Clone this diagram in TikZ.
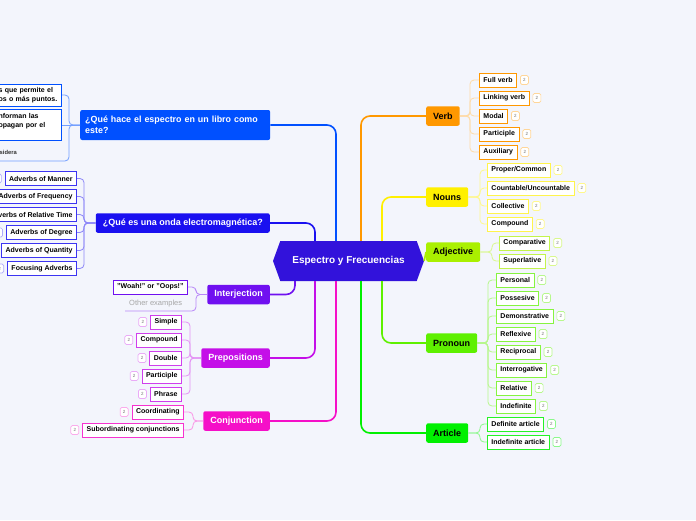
\documentclass[tikz,border=0pt]{standalone}
\usepackage{fontspec}
\setmainfont{Liberation Sans}
\usetikzlibrary{positioning,shapes.symbols}

\definecolor{bg}{HTML}{F3F5FC}
\definecolor{hubcol}{HTML}{3212DB}
\definecolor{verbcol}{HTML}{FF9800}
\definecolor{nouncol}{HTML}{FFF000}
\definecolor{adjcol}{HTML}{AAF000}
\definecolor{proncol}{HTML}{5EF000}
\definecolor{artcol}{HTML}{00F000}
\definecolor{qonecol}{HTML}{0050FF}
\definecolor{qtwocol}{HTML}{1A10F0}
\definecolor{interjcol}{HTML}{7010F0}
\definecolor{prepcol}{HTML}{C40FE8}
\definecolor{conjcol}{HTML}{F50FC8}

\begin{document}
\begin{tikzpicture}[
    x=1pt, y=-1pt,
    % Central topic
    hub/.style={signal, signal to=west and east, signal pointer angle=140, fill=hubcol, text=white,
        minimum width=151pt, minimum height=40pt, inner sep=0pt, font=\fontsize{10}{12}\selectfont\bfseries},
    % Main topics
    topic/.style={rounded corners=2pt, inner xsep=7pt, inner ysep=0pt, minimum height=19.5pt,
        font=\fontsize{9}{11}\selectfont\bfseries},
    % Subtopics and their little counters
    kid/.style={draw, fill=white, line width=0.9pt, inner xsep=4pt, inner ysep=0pt, minimum height=14pt,
        font=\fontsize{7}{9}\selectfont\bfseries},
    badge/.style={draw, rounded corners=1.5pt, fill=white, line width=0.7pt, inner sep=0pt,
        minimum width=8pt, minimum height=9pt, text=black!55, font=\fontsize{4.5}{5}\selectfont},
    note/.style={inner xsep=4pt, inner ysep=1pt, font=\fontsize{7.5}{9}\selectfont},
    % Connectors
    trunk/.style={line width=1.6pt, rounded corners=9pt},
    twig/.style={line width=0.8pt, rounded corners=4pt}
]

% Page background
\path[use as bounding box, fill=bg] (0,0) rectangle (696,520);

% Central topic
\node[hub] (hub) at (348.5,261) {Espectro y Frecuencias};

% Right side: main topics
\node[topic, fill=verbcol, anchor=west] (verb) at (426,116) {Verb};
\node[topic, fill=nouncol, anchor=west] (nouns) at (426,197) {Nouns};
\node[topic, fill=adjcol, anchor=west] (adj) at (426,252) {Adjective};
\node[topic, fill=proncol, anchor=west] (pron) at (426,343) {Pronoun};
\node[topic, fill=artcol, anchor=west] (art) at (426,433) {Article};

% Left side: main topics
\node[topic, fill=qonecol, text=white, anchor=west, text width=180pt, align=left, inner xsep=5pt,
    minimum height=30pt, font=\fontsize{8.9}{10.5}\selectfont\bfseries] (qone) at (80,125)
    {¿Qué hace el espectro en un libro como\\este?};
\node[topic, fill=qtwocol, text=white, anchor=east] (qtwo) at (270,223) {¿Qué es una onda electromagnética?};
\node[topic, fill=interjcol, text=white, anchor=east] (interj) at (270,294.5) {Interjection};
\node[topic, fill=prepcol, text=white, anchor=east] (prep) at (270,358) {Prepositions};
\node[topic, fill=conjcol, text=white, anchor=east] (conj) at (270,421) {Conjunction};

% Trunks from the central topic
\draw[trunk, verbcol] ([xshift=12.5pt]hub.north) |- (verb.west);
\draw[trunk, nouncol] ([xshift=33.5pt]hub.north) |- (nouns.west);
\draw[trunk, adjcol] (hub.east) -- (adj.west);
\draw[trunk, proncol] ([xshift=33.5pt]hub.south) |- (pron.west);
\draw[trunk, artcol] ([xshift=12.5pt]hub.south) |- (art.west);
\draw[trunk, qonecol] ([xshift=-12.5pt]hub.north) |- (qone.east);
\draw[trunk, qtwocol] ([xshift=-33.5pt]hub.north) |- (qtwo.east);
\draw[trunk, interjcol] ([xshift=-53.5pt]hub.south) |- (interj.east);
\draw[trunk, prepcol] ([xshift=-33.5pt]hub.south) |- (prep.east);
\draw[trunk, conjcol] ([xshift=-12.5pt]hub.south) |- (conj.east);

% Verb
\foreach \nm/\txt [count=\i from 0] in {fullv/Full verb, linkv/Linking verb, modal/Modal, partv/Participle, auxv/Auxiliary} {
    \node[kid, draw=verbcol, anchor=west] (\nm) at (479,80+18*\i) {\txt};
    \node[badge, draw=verbcol!40, right=3pt of \nm] (\nm-b) {2};
    \draw[twig, verbcol!35] (verb.east) -| ([xshift=-9pt]\nm.west) -- (\nm.west);
}

% Nouns
\foreach \nm/\txt [count=\i from 0] in {propc/{Proper/Common}, countu/{Countable/Uncountable}, collect/Collective, compn/Compound} {
    \node[kid, draw=nouncol!70, anchor=west] (\nm) at (487,170+18*\i) {\txt};
    \node[badge, draw=nouncol!45, right=3pt of \nm] (\nm-b) {2};
    \draw[twig, nouncol!45] (nouns.east) -| ([xshift=-7pt]\nm.west) -- (\nm.west);
}

% Adjective
\foreach \nm/\txt [count=\i from 0] in {compar/Comparative, superl/Superlative} {
    \node[kid, draw=adjcol!70, anchor=west] (\nm) at (499,243+18*\i) {\txt};
    \node[badge, draw=adjcol!45, right=3pt of \nm] (\nm-b) {2};
    \draw[twig, adjcol!45] (adj.east) -| ([xshift=-7pt]\nm.west) -- (\nm.west);
}

% Pronoun
\foreach \nm/\txt [count=\i from 0] in {personal/Personal, possess/Possesive, demonst/Demonstrative, reflex/Reflexive,
        recip/Reciprocal, interrog/Interrogative, relat/Relative, indef/Indefinite} {
    \node[kid, draw=proncol!75, anchor=west] (\nm) at (496,280+18*\i) {\txt};
    \node[badge, draw=proncol!45, right=3pt of \nm] (\nm-b) {2};
    \draw[twig, proncol!45] (pron.east) -| ([xshift=-8pt]\nm.west) -- (\nm.west);
}

% Article
\foreach \nm/\txt [count=\i from 0] in {defart/Definite article, indefart/Indefinite article} {
    \node[kid, draw=artcol!85, anchor=west] (\nm) at (487,424+18*\i) {\txt};
    \node[badge, draw=artcol!45, right=3pt of \nm] (\nm-b) {2};
    \draw[twig, artcol!45] (art.east) -| ([xshift=-7pt]\nm.west) -- (\nm.west);
}

% First question: its notes run off the page
\node[kid, draw=qonecol, anchor=east, text width=59pt, align=left, inner ysep=2pt, minimum height=22pt,
    font=\fontsize{7}{8.5}\selectfont\bfseries] (qa) at (62,95) {s que permite el\\os o más puntos.};
\node[kid, draw=qonecol, anchor=east, text width=59pt, align=left, inner ysep=2pt, minimum height=31pt,
    font=\fontsize{7}{9}\selectfont\bfseries] (qb) at (62,125) {nforman las\\opagan por el\\\mbox{}};
\node[note, anchor=base east, inner xsep=0pt, text=black!80, font=\fontsize{5.8}{7}\selectfont\bfseries] (sid) at (17,154.5) {sidera};
\coordinate (sidend) at (69,161);
\draw[twig, qonecol!55] (qone.west) -| ([xshift=7pt]qa.east) -- (qa.east);
\draw[twig, qonecol!55] (qone.west) -- (qb.east);
\draw[twig, qonecol!55] (qone.west) -| (sidend) -- ([xshift=-8pt]sid.west |- sidend);

% Second question
\foreach \nm/\txt [count=\i from 0] in {manner/Adverbs of Manner, freq/Adverbs of Frequency, reltime/Adverbs of Relative Time,
        degree/Adverbs of Degree, quant/Adverbs of Quantity, focus/Focusing Adverbs} {
    \node[kid, draw=qtwocol!85, anchor=east] (\nm) at (77,178.5+18*\i) {\txt};
    \node[badge, draw=qtwocol!35, left=3pt of \nm] (\nm-b) {2};
    \draw[twig, qtwocol!50] (qtwo.west) -| ([xshift=7pt]\nm.east) -- (\nm.east);
}

% Interjection
\node[kid, draw=interjcol, anchor=east] (woah) at (188,287) {"Woah!" or "Oops!"};
\node[note, text=black!35, anchor=west] (othex) at (125,304) {Other examples};
\coordinate (othend) at (196,311);
\draw[twig, interjcol!50] (interj.west) -| ([xshift=8pt]woah.east) -- (woah.east);
\draw[twig, interjcol!50] (interj.west) -| (othend) -- (othex.west |- othend);

% Prepositions
\foreach \nm/\txt [count=\i from 0] in {simple/Simple, pcomp/Compound, pdouble/Double, ppart/Participle, phrase/Phrase} {
    \node[kid, draw=prepcol!80, anchor=east] (\nm) at (182,322+18*\i) {\txt};
    \node[badge, draw=prepcol!35, left=3pt of \nm] (\nm-b) {2};
    \draw[twig, prepcol!45] (prep.west) -| ([xshift=8pt]\nm.east) -- (\nm.east);
}

% Conjunction
\foreach \nm/\txt [count=\i from 0] in {coord/Coordinating, subord/Subordinating conjunctions} {
    \node[kid, draw=conjcol!85, anchor=east] (\nm) at (184,412+18*\i) {\txt};
    \node[badge, draw=conjcol!35, left=3pt of \nm] (\nm-b) {2};
    \draw[twig, conjcol!45] (conj.west) -| ([xshift=9pt]\nm.east) -- (\nm.east);
}

\end{tikzpicture}
\end{document}
